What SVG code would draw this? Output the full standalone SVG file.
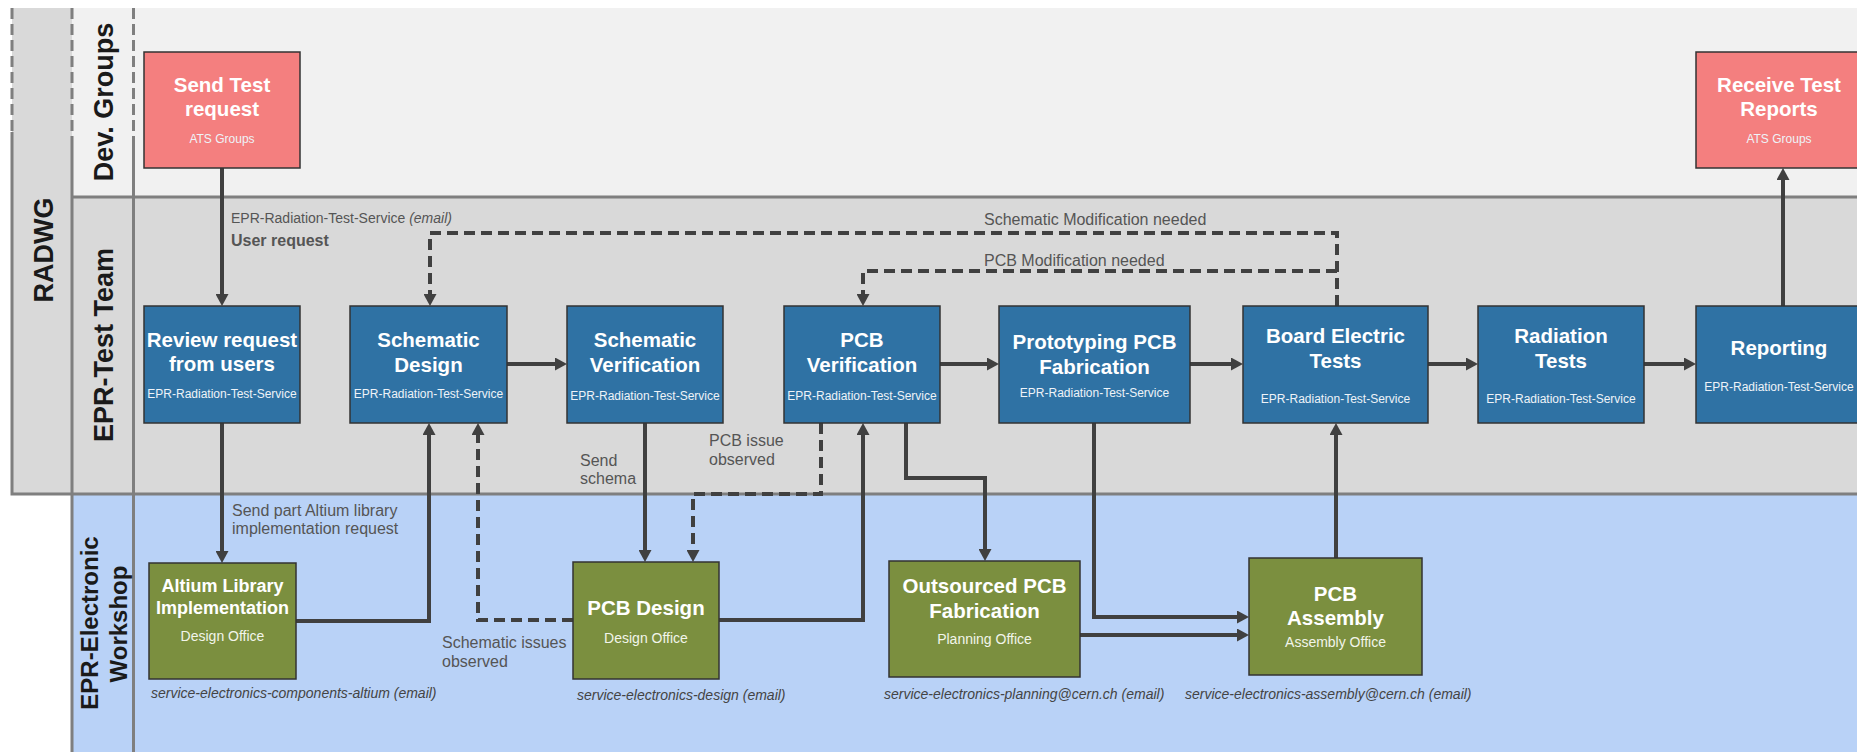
<svg xmlns="http://www.w3.org/2000/svg" width="1857" height="752" viewBox="0 0 1857 752">
<defs>
<style>
.lane-line{stroke:#7f7f7f;stroke-width:3;fill:none}
.lane-dash{stroke:#7f7f7f;stroke-width:3;fill:none;stroke-dasharray:11 5}
.lane-title{font-family:"Liberation Sans",Arial,sans-serif;font-weight:bold;fill:#1a1a1a;text-anchor:middle}
.box{stroke:#333;stroke-width:1.5}
.red{fill:#f47f7f}
.blue{fill:#2f72a4}
.green{fill:#7b8f3f}
.t{font-family:"Liberation Sans",Arial,sans-serif;font-weight:bold;font-size:20.5px;fill:#fff;text-anchor:middle}
.t18{font-family:"Liberation Sans",Arial,sans-serif;font-weight:bold;font-size:18px;fill:#fff;text-anchor:middle}
.s{font-family:"Liberation Sans",Arial,sans-serif;font-size:12px;fill:#eef3f8;text-anchor:middle}
.sg{font-family:"Liberation Sans",Arial,sans-serif;font-size:14px;fill:#f2f5ea;text-anchor:middle}
.em{font-family:"Liberation Sans",Arial,sans-serif;font-size:14px;font-style:italic;fill:#444}
.lbl{font-family:"Liberation Sans",Arial,sans-serif;font-size:16px;fill:#555}
.lbl14{font-family:"Liberation Sans",Arial,sans-serif;font-size:14px;fill:#555}
.c{stroke:#404040;stroke-width:4;fill:none;marker-end:url(#ah)}
.d{stroke:#404040;stroke-width:4;fill:none;stroke-dasharray:11 6;marker-end:url(#ah)}
</style>
<marker id="ah" markerUnits="userSpaceOnUse" markerWidth="13" markerHeight="13" refX="4" refY="6.5" orient="auto">
<path d="M0,0 L12,6.5 L0,13 z" fill="#404040"/>
</marker>
</defs>
<rect x="0" y="0" width="1857" height="752" fill="#ffffff"/>
<g id="lanes">
<rect x="72" y="8" width="1785" height="189" fill="#f1f1f1"/>
<rect x="12" y="8" width="60" height="486" fill="#d9d9d9"/>
<rect x="72" y="197" width="1785" height="297" fill="#d9d9d9"/>
<rect x="72" y="494" width="1785" height="258" fill="#b9d2f7"/>
<path class="lane-dash" d="M12,8 V132 M72,8 V140 M133.5,8 V140"/>
<path class="lane-line" d="M12,132 V494 M72,140 V752 M133.5,140 V752 M72,197 H1857 M10.5,494 H1857"/>
<text class="lane-title" font-size="27" transform="translate(53,250) rotate(-90)">RADWG</text>
<text class="lane-title" font-size="27" transform="translate(113,102) rotate(-90)">Dev. Groups</text>
<text class="lane-title" font-size="27" transform="translate(113,345) rotate(-90)">EPR-Test Team</text>
<text class="lane-title" font-size="24" transform="translate(98,623) rotate(-90)">EPR-Electronic</text>
<text class="lane-title" font-size="24" transform="translate(127,624) rotate(-90)">Workshop</text>
</g>
<g id="connectors">
<path class="c" d="M222,168 V298"/>
<path class="c" d="M222,423 V555"/>
<path class="c" d="M296,621 H429 V431"/>
<path class="c" d="M507,364 H559"/>
<path class="c" d="M645,423 V554"/>
<path class="c" d="M719,620 H863 V431"/>
<path class="d" d="M573,620 H478 V431"/>
<path class="d" d="M821,423 V494 H693 V554"/>
<path class="c" d="M940,364 H991"/>
<path class="c" d="M906,423 V478 H985 V553"/>
<path class="c" d="M1094,423 V617 H1241"/>
<path class="c" d="M1080,635 H1241"/>
<path class="c" d="M1336,558 V431"/>
<path class="c" d="M1190,364 H1235"/>
<path class="c" d="M1428,364 H1470"/>
<path class="c" d="M1644,364 H1688"/>
<path class="c" d="M1783,306 V176"/>
<path class="d" d="M1337,306 V233 H430 V298"/>
<path class="d" d="M1337,271 H863 V298"/>
<text class="lbl14" x="231" y="223">EPR-Radiation-Test-Service <tspan font-style="italic">(email)</tspan></text>
<text class="lbl" x="231" y="246" font-weight="bold">User request</text>
<text class="lbl" x="232" y="516">Send part Altium library</text>
<text class="lbl" x="232" y="534">implementation request</text>
<text class="lbl" x="580" y="466">Send</text>
<text class="lbl" x="580" y="484">schema</text>
<text class="lbl" x="709" y="446">PCB issue</text>
<text class="lbl" x="709" y="465">observed</text>
<text class="lbl" x="442" y="648">Schematic issues</text>
<text class="lbl" x="442" y="667">observed</text>
<text class="lbl" x="984" y="225">Schematic Modification needed</text>
<text class="lbl" x="984" y="266">PCB Modification needed</text>
</g>
<g id="send-test-request">
<rect class="box red" x="144" y="52" width="156" height="116"/>
<text class="t" x="222" y="92">Send Test</text>
<text class="t" x="222" y="116">request</text>
<text class="s" x="222" y="143">ATS Groups</text>
</g>
<g id="receive-test-reports">
<rect class="box red" x="1696" y="52" width="168" height="116"/>
<text class="t" x="1779" y="92">Receive Test</text>
<text class="t" x="1779" y="116">Reports</text>
<text class="s" x="1779" y="143">ATS Groups</text>
</g>
<g id="review-request">
<rect class="box blue" x="144" y="306" width="156" height="117"/>
<text class="t" x="222" y="347">Review request</text>
<text class="t" x="222" y="371">from users</text>
<text class="s" x="222" y="398">EPR-Radiation-Test-Service</text>
</g>
<g id="schematic-design">
<rect class="box blue" x="350" y="306" width="157" height="117"/>
<text class="t" x="428.5" y="347">Schematic</text>
<text class="t" x="428.5" y="372">Design</text>
<text class="s" x="428.5" y="398">EPR-Radiation-Test-Service</text>
</g>
<g id="schematic-verification">
<rect class="box blue" x="567" y="306" width="156" height="117"/>
<text class="t" x="645" y="347">Schematic</text>
<text class="t" x="645" y="372">Verification</text>
<text class="s" x="645" y="400">EPR-Radiation-Test-Service</text>
</g>
<g id="pcb-verification">
<rect class="box blue" x="784" y="306" width="156" height="117"/>
<text class="t" x="862" y="347">PCB</text>
<text class="t" x="862" y="372">Verification</text>
<text class="s" x="862" y="400">EPR-Radiation-Test-Service</text>
</g>
<g id="prototyping-pcb-fabrication">
<rect class="box blue" x="999" y="306" width="191" height="117"/>
<text class="t" x="1094.5" y="349">Prototyping PCB</text>
<text class="t" x="1094.5" y="374">Fabrication</text>
<text class="s" x="1094.5" y="397">EPR-Radiation-Test-Service</text>
</g>
<g id="board-electric-tests">
<rect class="box blue" x="1243" y="306" width="185" height="117"/>
<text class="t" x="1335.5" y="343">Board Electric</text>
<text class="t" x="1335.5" y="368">Tests</text>
<text class="s" x="1335.5" y="403">EPR-Radiation-Test-Service</text>
</g>
<g id="radiation-tests">
<rect class="box blue" x="1478" y="306" width="166" height="117"/>
<text class="t" x="1561" y="343">Radiation</text>
<text class="t" x="1561" y="368">Tests</text>
<text class="s" x="1561" y="403">EPR-Radiation-Test-Service</text>
</g>
<g id="reporting">
<rect class="box blue" x="1696" y="306" width="168" height="117"/>
<text class="t" x="1779" y="355">Reporting</text>
<text class="s" x="1779" y="391">EPR-Radiation-Test-Service</text>
</g>
<g id="altium-library">
<rect class="box green" x="149" y="563" width="147" height="116"/>
<text class="t18" x="222.5" y="592">Altium Library</text>
<text class="t18" x="222.5" y="614">Implementation</text>
<text class="sg" x="222.5" y="641">Design Office</text>
<text class="em" x="151" y="698">service-electronics-components-altium (email)</text>
</g>
<g id="pcb-design">
<rect class="box green" x="573" y="562" width="146" height="117"/>
<text class="t" x="646" y="615">PCB Design</text>
<text class="sg" x="646" y="643">Design Office</text>
<text class="em" x="577" y="700">service-electronics-design (email)</text>
</g>
<g id="outsourced-pcb-fabrication">
<rect class="box green" x="889" y="561" width="191" height="116"/>
<text class="t" x="984.5" y="593">Outsourced PCB</text>
<text class="t" x="984.5" y="618">Fabrication</text>
<text class="sg" x="984.5" y="644">Planning Office</text>
<text class="em" x="884" y="699">service-electronics-planning@cern.ch (email)</text>
</g>
<g id="pcb-assembly">
<rect class="box green" x="1249" y="558" width="173" height="117"/>
<text class="t" x="1335.5" y="601">PCB</text>
<text class="t" x="1335.5" y="625">Assembly</text>
<text class="sg" x="1335.5" y="647">Assembly Office</text>
<text class="em" x="1185" y="699">service-electronics-assembly@cern.ch (email)</text>
</g>
</svg>
